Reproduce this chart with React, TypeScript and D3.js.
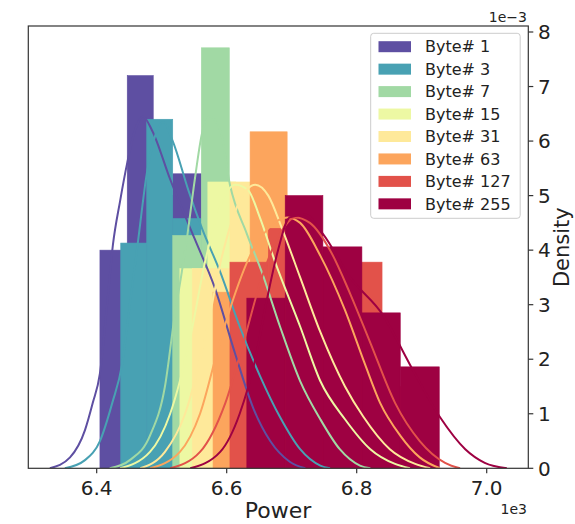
import React from "react";
import * as d3 from "d3";

const groups = ["Byte# 1", "Byte# 3", "Byte# 7", "Byte# 15", "Byte# 31", "Byte# 63", "Byte# 127", "Byte# 255"];
const colors = ["#5e4fa2", "#48a1b3", "#a1d9a4", "#edf8a3", "#fee99a", "#fca55d", "#e2524a", "#9e0142"];

// histogram bin edges (power, x1e3) and densities (x1e-3) per group
const edges1 = [6.405, 6.447, 6.487, 6.517, 6.561];
const dens1 = [4.0, 7.2, 5.0, 5.4];
const edges3 = [6.437, 6.477, 6.517, 6.561, 6.604];
const dens3 = [4.13, 6.4, 4.58, 2.0];
const edges7 = [6.517, 6.561, 6.604, 6.647];
const dens7 = [4.27, 7.71, 3.0];
const edges15 = [6.528, 6.571, 6.614, 6.657, 6.701];
const dens15 = [3.66, 5.25, 4.8, 3.0];
const edges31 = [6.547, 6.605, 6.664, 6.722, 6.781];
const dens31 = [3.66, 5.25, 4.2, 2.5];
const edges63 = [6.579, 6.636, 6.693, 6.750, 6.807, 6.864];
const dens63 = [3.23, 6.17, 4.0, 3.5, 2.0];
const edges127 = [6.605, 6.664, 6.722, 6.781, 6.839, 6.897];
const dens127 = [3.78, 4.4, 3.9, 3.78, 1.5];
const edges255 = [6.631, 6.690, 6.748, 6.808, 6.867, 6.927];
const dens255 = [3.12, 5.0, 4.06, 2.85, 1.86];

// KDE curves [power, density]
const kde1 = [[6.328,0],[6.359,0.2],[6.382,0.7],[6.394,1.2],[6.405,1.74],[6.416,3.0],[6.425,4.1],[6.436,4.9],[6.447,5.6],[6.459,6.2],[6.471,6.45],[6.485,6.2],[6.513,5.3],[6.551,4.2],[6.582,3.3],[6.613,2.1],[6.641,1.1],[6.667,0.5],[6.697,0.12],[6.721,0]];
const kde3 = [[6.351,0],[6.382,0.15],[6.405,0.5],[6.424,1.2],[6.439,1.9],[6.451,3.0],[6.464,4.2],[6.477,5.4],[6.490,6.1],[6.502,6.35],[6.517,6.0],[6.541,5.1],[6.562,4.4],[6.590,3.6],[6.620,2.6],[6.651,1.7],[6.682,0.94],[6.713,0.35],[6.744,0.05],[6.759,0]];
const kde7 = [[6.420,0],[6.451,0.15],[6.482,0.6],[6.505,1.5],[6.520,2.8],[6.531,3.6],[6.539,4.23],[6.551,5.3],[6.562,6.14],[6.574,6.45],[6.590,6.2],[6.605,5.2],[6.631,4.3],[6.654,3.6],[6.682,2.6],[6.713,1.6],[6.744,0.9],[6.774,0.35],[6.805,0.05],[6.821,0]];
const kde15 = [[6.436,0],[6.482,0.3],[6.513,1.0],[6.544,2.4],[6.567,3.8],[6.590,4.8],[6.613,5.2],[6.633,5.1],[6.651,4.6],[6.674,3.8],[6.713,2.6],[6.744,1.6],[6.782,0.9],[6.821,0.35],[6.859,0.08],[6.882,0]];
const kde31 = [[6.467,0],[6.505,0.3],[6.536,1.0],[6.567,2.4],[6.593,3.9],[6.620,4.9],[6.644,5.2],[6.664,5.0],[6.685,4.4],[6.713,3.5],[6.744,2.5],[6.782,1.5],[6.810,0.95],[6.851,0.35],[6.890,0.08],[6.913,0]];
const kde63 = [[6.482,0],[6.528,0.3],[6.559,1.0],[6.587,2.2],[6.610,3.1],[6.636,3.9],[6.664,4.4],[6.693,4.6],[6.713,4.5],[6.744,3.9],[6.782,2.9],[6.813,1.9],[6.836,1.2],[6.867,0.6],[6.897,0.2],[6.928,0]];
const kde127 = [[6.513,0],[6.559,0.3],[6.598,1.2],[6.628,2.4],[6.654,3.5],[6.682,4.3],[6.705,4.6],[6.728,4.5],[6.759,4.0],[6.790,3.2],[6.821,2.3],[6.859,1.2],[6.897,0.5],[6.936,0.1],[6.959,0]];
const kde255 = [[6.544,0],[6.590,0.3],[6.620,1.0],[6.644,2.0],[6.662,3.1],[6.679,4.0],[6.697,4.6],[6.721,4.65],[6.748,4.3],[6.790,3.5],[6.841,2.8],[6.882,1.9],[6.928,0.94],[6.967,0.35],[6.997,0.1],[7.031,0]];

const xTicks = [6.4, 6.6, 6.8, 7.0];
const yTicks = [0, 1, 2, 3, 4, 5, 6, 7, 8];

const allEdges = [edges1, edges3, edges7, edges15, edges31, edges63, edges127, edges255];
const allDens = [dens1, dens3, dens7, dens15, dens31, dens63, dens127, dens255];
const allKde = [kde1, kde3, kde7, kde15, kde31, kde63, kde127, kde255];

const W = 575, H = 524;
const L = 28.3, R = 528.3, T = 26, B = 468.3;
const FONT = "DejaVu Sans, sans-serif";

export default function App() {
  const x = d3.scaleLinear().domain([6.2948, 7.064]).range([L, R]);
  const y = d3.scaleLinear().domain([0, 8.11]).range([B, T]);
  const line = d3.line<number[]>().x(d => x(d[0])).y(d => y(d[1])).curve(d3.curveMonotoneX);

  return (
    <svg width={W} height={H} style={{ position: "absolute", left: 0, top: 0, background: "#fff" }} fontFamily={FONT}>
      <defs>
        <clipPath id="plot"><rect x={L} y={T} width={R - L} height={B - T} /></clipPath>
      </defs>
      <g clipPath="url(#plot)">
        {allEdges.map((e, gi) =>
          allDens[gi].map((v, i) => (
            <rect key={gi + "-" + i} x={x(e[i])} width={x(e[i + 1]) - x(e[i])} y={y(v)} height={y(0) - y(v)}
              fill={colors[gi]} stroke={colors[gi]} strokeWidth={0.6} />
          ))
        )}
        {allKde.map((k, gi) => (
          <path key={"k" + gi} d={line(k) || ""} fill="none" stroke={colors[gi]} strokeWidth={2} />
        ))}
      </g>
      <rect x={L} y={T} width={R - L} height={B - T} fill="none" stroke="#333" strokeWidth={1.2} />
      {xTicks.map(t => (
        <g key={"x" + t}>
          <line x1={x(t)} x2={x(t)} y1={B} y2={B + 5} stroke="#333" strokeWidth={1.2} />
          <text x={x(t)} y={495} textAnchor="middle" fontSize={20} fill="#222">{t.toFixed(1)}</text>
        </g>
      ))}
      {yTicks.map(t => (
        <g key={"y" + t}>
          <line x1={R} x2={R + 5} y1={y(t)} y2={y(t)} stroke="#333" strokeWidth={1.2} />
          <text x={538} y={y(t)} dy="0.36em" textAnchor="start" fontSize={20} fill="#222">{t}</text>
        </g>
      ))}
      <text x={278} y={518} textAnchor="middle" fontSize={22} fill="#222">Power</text>
      <text x={527} y={514} textAnchor="end" fontSize={14} fill="#222">1e3</text>
      <text x={527} y={22} textAnchor="end" fontSize={14} fill="#222">1e−3</text>
      <text transform={`translate(569, ${(T + B) / 2}) rotate(-90)`} textAnchor="middle" fontSize={21} fill="#222">Density</text>
      <g>
        <rect x={370.7} y={33.3} width={149.5} height={185} rx={3} fill="#fff" fillOpacity={0.8} stroke="#ccc" strokeWidth={1} />
        {groups.map((g, i) => (
          <g key={g} transform={`translate(0, ${46.7 + i * 22.45})`}>
            <rect x={378.5} y={-5.5} width={32.5} height={11} fill={colors[i]} />
            <text x={425} y={0} dy="0.36em" fontSize={16} fill="#222">{g}</text>
          </g>
        ))}
      </g>
    </svg>
  );
}
